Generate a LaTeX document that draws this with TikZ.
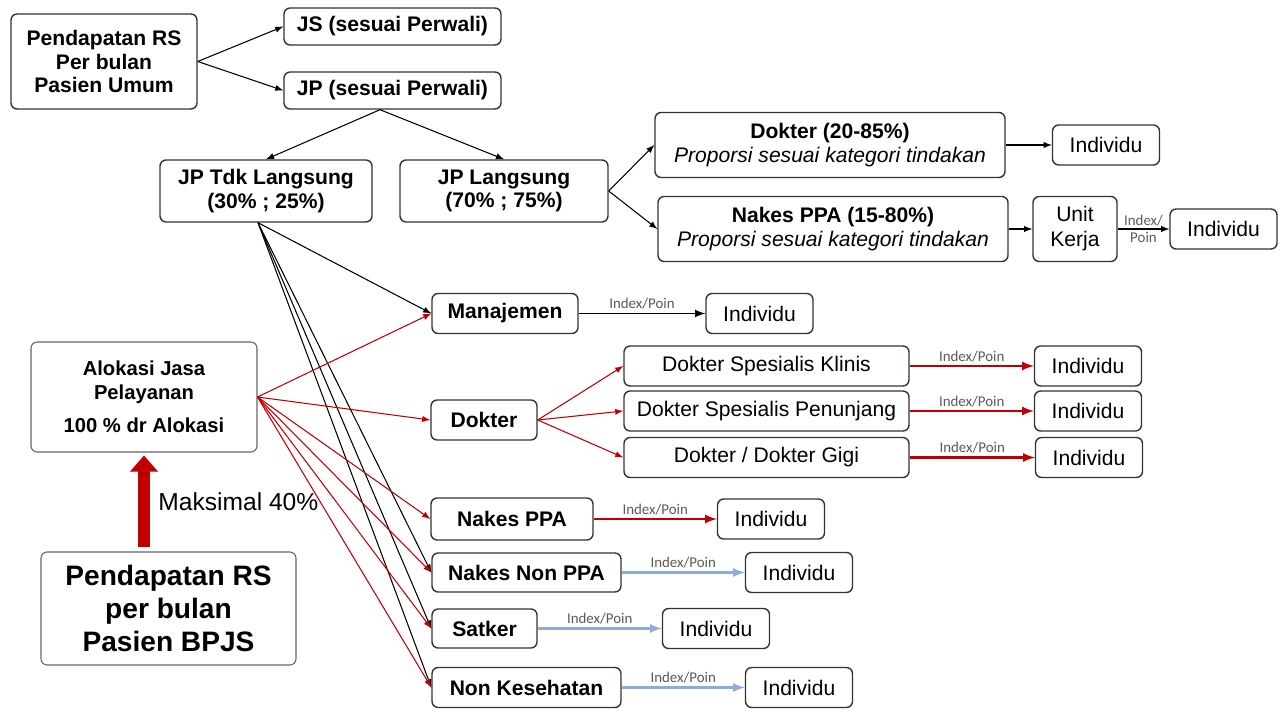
\documentclass[tikz,border=0pt]{standalone}
\usepackage{fontspec}
\setmainfont{Liberation Sans}
\newfontfamily\idxfont{Carlito}
\usepackage{tikz}
\usetikzlibrary{arrows,arrows.meta,shapes,positioning}
\definecolor{jpred}{HTML}{C00000}
\definecolor{jpblue}{HTML}{8FAADC}
\tikzset{>=latex}
\tikzset{box/.style={rectangle,rounded corners=3.5pt,fill=white,draw=black!80,line width=0.8pt,align=center,inner sep=0mm,font=\fontsize{12}{13.5}\selectfont}}
\tikzset{boxb/.style={box,font=\fontsize{12}{13.5}\selectfont\bfseries}}
\tikzset{ind/.style={box,minimum width=2.14cm,minimum height=0.8cm}}
\tikzset{soft/.style={box,draw=black!60,line width=0.6pt,font=\fontsize{11.5}{13.7}\selectfont\bfseries}}
\tikzset{idx/.style={font=\idxfont\fontsize{8.5}{9.5}\selectfont,text=black!65,inner sep=0.3mm}}
\tikzset{blk/.style={->,line width=0.6pt}}
\tikzset{rd/.style={->,draw=jpred,line width=0.6pt}}
\tikzset{rdthick/.style={->,draw=jpred,line width=1.3pt}}
\tikzset{bl/.style={->,draw=jpblue,line width=1.3pt}}

\begin{document}
\begin{tikzpicture}
    \useasboundingbox (0,0) rectangle (25.7,14.2);

    % pasien umum
    \node[boxb,minimum width=3.72cm,minimum height=1.9cm] (umum) at (2.08, 12.97) {Pendapatan RS\\Per bulan\\Pasien Umum};
    \node[boxb,minimum width=4.34cm,minimum height=0.74cm] (js) at (7.85, 13.67) {JS (sesuai Perwali)};
    \node[boxb,minimum width=4.34cm,minimum height=0.74cm] (jp) at (7.85, 12.39) {JP (sesuai Perwali)};
    \node[boxb,minimum width=4.24cm,minimum height=1.24cm] (jptl) at (5.32, 10.38) {JP Tdk Langsung\\(30\% ; 25\%)};
    \node[boxb,minimum width=4.16cm,minimum height=1.24cm] (jpl) at (10.08, 10.38) {JP Langsung\\(70\% ; 75\%)};
    \node[box,minimum width=7cm,minimum height=1.3cm] (dokp) at (16.6, 11.3) {\textbf{Dokter (20-85\%)}\\\textit{Proporsi sesuai kategori tindakan}};
    \node[ind] (ind1) at (22.12, 11.3) {Individu};
    \node[box,minimum width=7cm,minimum height=1.3cm] (nakesp) at (16.66, 9.62) {\textbf{Nakes PPA (15-80\%)}\\\textit{Proporsi sesuai kategori tindakan}};
    \node[box,minimum width=1.68cm,minimum height=1.3cm,font=\fontsize{12}{14.2}\selectfont] (unit) at (21.5, 9.62) {Unit\\Kerja};
    \node[ind] (ind2) at (24.47, 9.62) {Individu};

    % pasien bpjs
    \node[soft,minimum width=4.52cm,minimum height=2.2cm] (alok) at (2.88, 6.26) {Alokasi Jasa\\Pelayanan\\[5pt]100 \% dr Alokasi};
    \node[soft,minimum width=5.1cm,minimum height=2.26cm,font=\fontsize{16}{19}\selectfont\bfseries] (bpjs) at (3.37, 2.03) {Pendapatan RS\\per bulan\\Pasien BPJS};

    \node[boxb,minimum width=2.92cm,minimum height=0.8cm] (manaj) at (10.1, 7.93) {Manajemen};
    \node[ind] (ind3) at (15.19, 7.93) {Individu};
    \node[boxb,minimum width=2.12cm,minimum height=0.8cm] (dok) at (9.68, 5.8) {Dokter};
    \node[box,minimum width=5.7cm,minimum height=0.8cm] (dsk) at (15.33, 6.88) {Dokter Spesialis Klinis};
    \node[box,minimum width=5.7cm,minimum height=0.8cm] (dsp) at (15.33, 5.98) {Dokter Spesialis Penunjang};
    \node[box,minimum width=5.7cm,minimum height=0.8cm] (ddg) at (15.33, 5.05) {Dokter / Dokter Gigi};
    \node[ind] (ind4) at (21.76, 6.88) {Individu};
    \node[ind] (ind5) at (21.76, 5.98) {Individu};
    \node[ind] (ind6) at (21.78, 5.05) {Individu};
    \node[boxb,minimum width=3.24cm,minimum height=0.84cm] (nppa) at (10.24, 3.82) {Nakes PPA};
    \node[ind] (ind7) at (15.42, 3.82) {Individu};
    \node[boxb,minimum width=3.78cm,minimum height=0.78cm] (nnppa) at (10.53, 2.75) {Nakes Non PPA};
    \node[ind] (ind8) at (15.98, 2.75) {Individu};
    \node[boxb,minimum width=2.1cm,minimum height=0.78cm] (satker) at (9.69, 1.63) {Satker};
    \node[ind] (ind9) at (14.32, 1.63) {Individu};
    \node[boxb,minimum width=3.78cm,minimum height=0.8cm] (nonkes) at (10.53, 0.45) {Non Kesehatan};
    \node[ind] (ind10) at (15.98, 0.45) {Individu};

    % arrows, umum
    \draw[blk] (umum.east) -- (js.west);
    \draw[blk] (umum.east) -- (jp.west);
    \draw[blk] ([xshift=-2.5mm]jp.south) -- (jptl.north);
    \draw[blk] ([xshift=-2.5mm]jp.south) -- (jpl.north);
    \draw[blk] (jpl.east) -- (dokp.west);
    \draw[blk] (jpl.east) -- (nakesp.west);
    \draw[blk] (dokp) -- (ind1);
    \draw[blk] (nakesp) -- (unit);
    \draw[blk] (unit) -- (ind2) coordinate[midway] (uk);

    % arrows, tdk langsung and alokasi
    \foreach \t in {manaj,nnppa,satker,nonkes}
        \draw[blk] ([xshift=-1.6mm]jptl.south) -- (\t.west);
    \foreach \t in {manaj,dok,nppa,nnppa,satker,nonkes}
        \draw[rd] (alok.east) -- (\t.west);
    \foreach \t in {dsk,dsp,ddg}
        \draw[rd] (dok.east) -- (\t.west);

    \coordinate (ab) at (alok.south |- bpjs.north);
    \draw[jpred,line width=6.8pt,-{Triangle[width=0.54cm,length=0.32cm]}] ([yshift=0.08cm]ab) -- ([yshift=-0.06cm]alok.south) coordinate[midway] (mk);
    \node[right = 2.8mm of mk,inner sep=0pt,font=\fontsize{14}{16}\selectfont] {Maksimal 40\%};

    % index/poin
    \draw[->,line width=1pt] (manaj) -- (ind3) coordinate[midway] (m3);
    \draw[rdthick] (dsk) -- (ind4) coordinate[midway] (m4);
    \draw[rdthick] (dsp) -- (ind5) coordinate[midway] (m5);
    \draw[rdthick] (ddg) -- (ind6) coordinate[midway] (m6);
    \draw[rdthick] (nppa) -- (ind7) coordinate[midway] (m7);
    \draw[bl] (nnppa) -- (ind8) coordinate[midway] (m8);
    \draw[bl] (satker) -- (ind9) coordinate[midway] (m9);
    \draw[bl] (nonkes) -- (ind10) coordinate[midway] (m10);

    \foreach \m in {m3,m4,m5,m6,m7,m8,m9,m10}
        \node[above = 0.5mm of \m,idx] {Index/Poin};
    \node[above = 0.3mm of uk,idx] {Index/};
    \node[below = 0.3mm of uk,idx] {Poin};
\end{tikzpicture}
\end{document}
